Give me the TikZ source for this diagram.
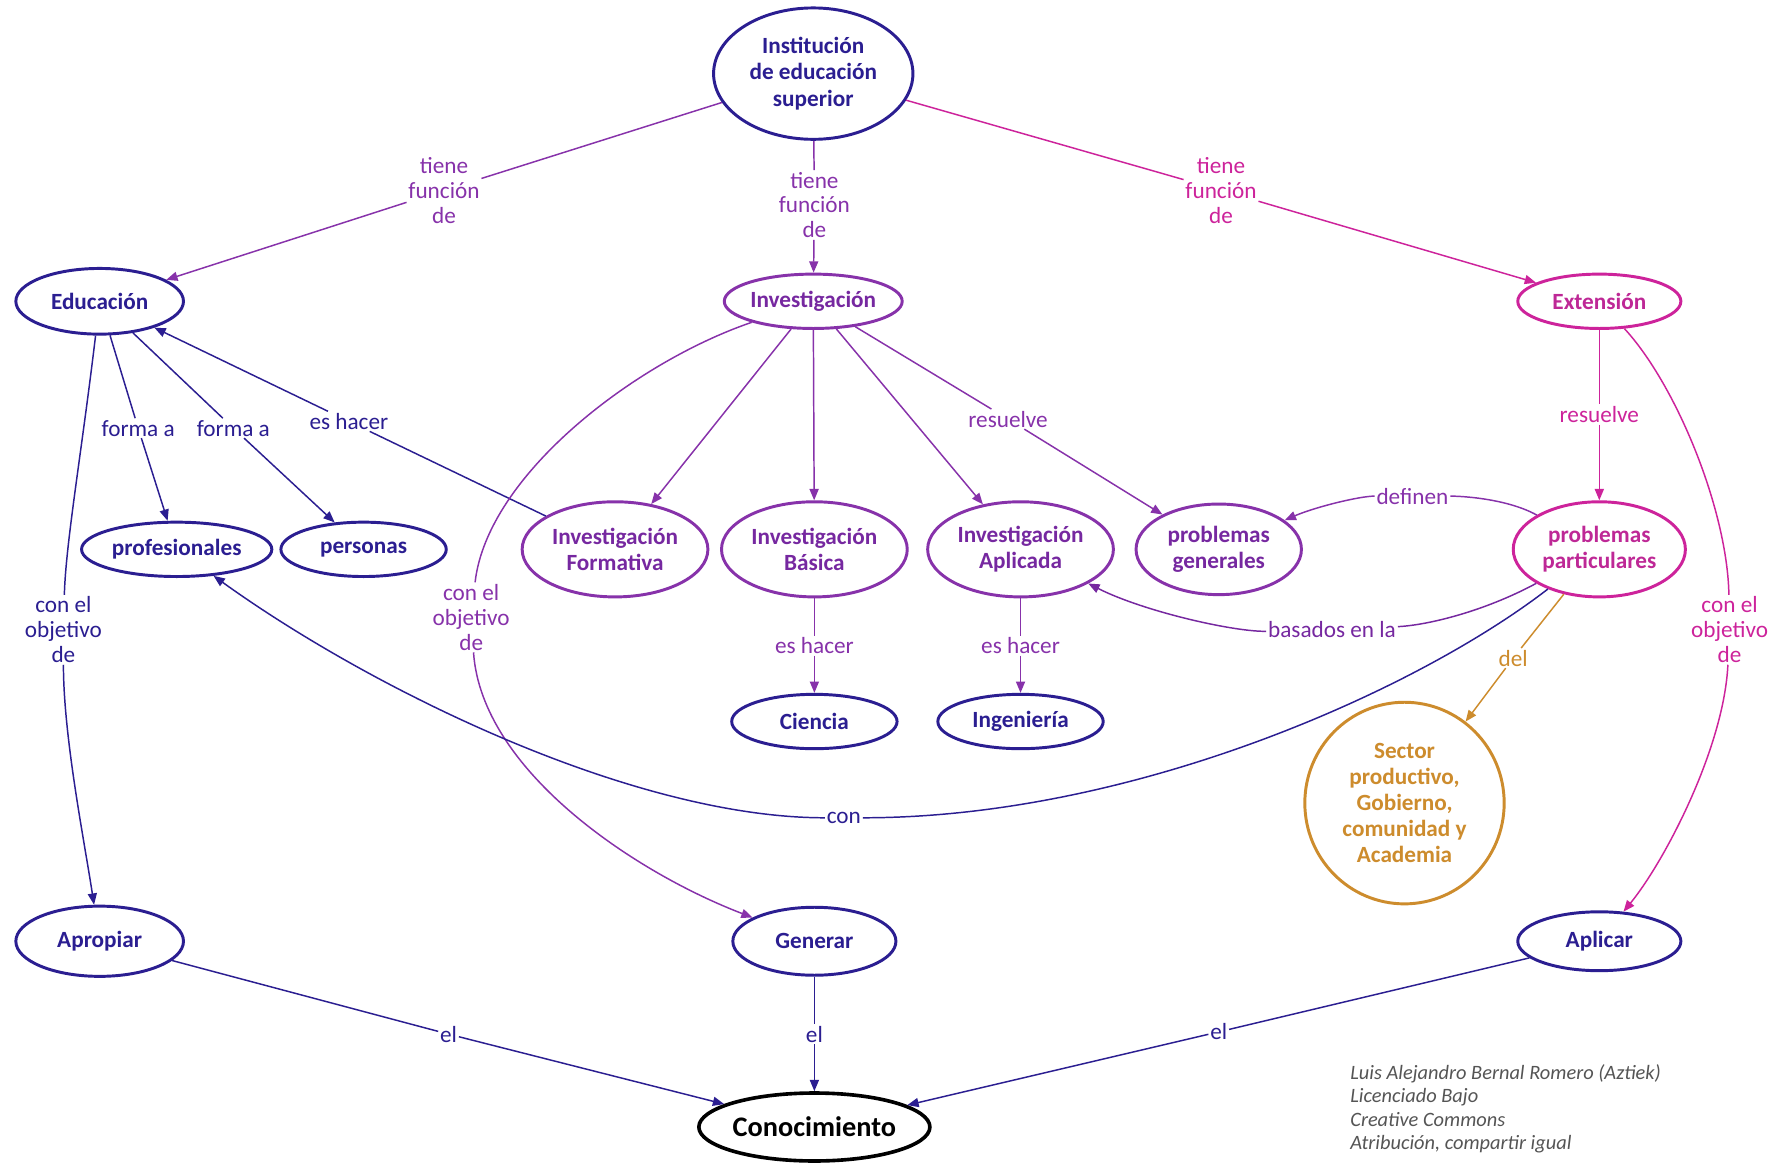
\documentclass[tikz,border=0pt]{standalone}
\usepackage{fontspec}
\setmainfont{Carlito}
\usetikzlibrary{shapes.geometric,arrows.meta}
\definecolor{cblue}{RGB}{43,30,145}
\definecolor{cpurple}{RGB}{135,50,170}
\definecolor{cpurpletext}{RGB}{118,40,160}
\definecolor{cmagenta}{RGB}{205,35,155}
\definecolor{cmagtext}{RGB}{190,40,150}
\definecolor{corange}{RGB}{205,140,45}
\definecolor{cgray}{RGB}{85,85,85}
\newcommand\nodefont{\fontsize{20.5}{23}\selectfont\bfseries}
\newcommand\lblfont{\fontsize{20.5}{22}\selectfont}
\newcommand\credfont{\fontsize{18}{20.5}\selectfont\itshape}
\tikzset{
  concept/.style={ellipse, draw, line width=2.6pt, inner sep=0pt, align=center, font=\nodefont},
  lbl/.style={fill=white, inner sep=1.5pt, align=center, font=\lblfont},
  link/.style={line width=1.3pt},
  arr/.style={link, -{Triangle[length=10pt,width=8pt]}},
}
\begin{document}
\begin{tikzpicture}[x=1pt,y=-1pt]
\useasboundingbox (0,0) rectangle (1568,1026);
\fill[white] (0,0) rectangle (1568,1026);

% concepts
\node[concept,cblue,minimum width=176pt,minimum height=116pt] (inst) at (718,65) {Institución\\de educación\\superior};
\node[concept,cblue,minimum width=148pt,minimum height=58pt] (edu) at (88,266) {Educación};
\node[concept,cpurple,text=cpurpletext,minimum width=156pt,minimum height=48pt] (inv) at (718,266) {Investigación};
\node[concept,cmagenta,text=cmagtext,minimum width=144pt,minimum height=48pt] (ext) at (1412,266) {Extensión};
\node[concept,cblue,minimum width=168pt,minimum height=48pt] (prof) at (156,485) {profesionales};
\node[concept,cblue,minimum width=146pt,minimum height=48pt] (pers) at (321,485) {personas};
\node[concept,cpurple,text=cpurpletext,minimum width=164pt,minimum height=84pt] (form) at (543,485) {Investigación\\Formativa};
\node[concept,cpurple,text=cpurpletext,minimum width=164pt,minimum height=84pt] (bas) at (719,485) {Investigación\\Básica};
\node[concept,cpurple,text=cpurpletext,minimum width=164pt,minimum height=84pt] (apl) at (901,485) {Investigación\\Aplicada};
\node[concept,cpurple,text=cpurpletext,minimum width=146pt,minimum height=80pt] (gen) at (1076,485) {problemas\\generales};
\node[concept,cmagenta,text=cmagtext,minimum width=152pt,minimum height=84pt] (part) at (1412,485) {problemas\\particulares};
\node[concept,cblue,minimum width=146pt,minimum height=48pt] (cie) at (719,637) {Ciencia};
\node[concept,cblue,minimum width=146pt,minimum height=48pt] (ing) at (901,637) {Ingeniería};
\node[concept,corange,minimum width=176pt,minimum height=178pt] (sector) at (1240,709) {Sector\\productivo,\\Gobierno,\\comunidad y\\Academia};
\node[concept,cblue,minimum width=148pt,minimum height=62pt] (aprop) at (88,831) {Apropiar};
\node[concept,cblue,minimum width=144pt,minimum height=60pt] (generar) at (719,831) {Generar};
\node[concept,cblue,minimum width=144pt,minimum height=52pt] (aplicar) at (1412,831) {Aplicar};
\node[concept,black,line width=3.2pt,minimum width=200pt,minimum height=60pt,font=\fontsize{25}{28}\selectfont\bfseries] (con) at (719,995) {Conocimiento};

% linking phrases
\node[lbl,text=cpurple] (l1) at (392,168) {tiene\\función\\de};
\node[lbl,text=cpurple] (l2) at (719,181) {tiene\\función\\de};
\node[lbl,text=cmagenta] (l3) at (1078,168) {tiene\\función\\de};
\node[lbl,text=cblue] (l4) at (122,378) {forma a};
\node[lbl,text=cblue] (l5) at (206,378) {forma a};
\node[lbl,text=cblue] (l6) at (308,372) {es hacer};
\node[lbl,text=cblue] (l7) at (56,556) {con el\\objetivo\\de};
\node[lbl,text=cpurple] (l8) at (890,370) {resuelve};
\node[lbl,text=cpurple] (l9) at (416,545) {con el\\objetivo\\de};
\node[lbl,text=cpurple] (l10) at (719,570) {es hacer};
\node[lbl,text=cpurple] (l11) at (901,570) {es hacer};
\node[lbl,text=cmagenta] (l12) at (1412,366) {resuelve};
\node[lbl,text=cmagenta] (l13) at (1527,556) {con el\\objetivo\\de};
\node[lbl,text=cpurple] (l14) at (1247,438) {definen};
\node[lbl,text=cpurpletext] (l15) at (1176,556) {basados en la};
\node[lbl,text=cblue] (l16) at (745,722) {con};
\node[lbl,text=corange] (l17) at (1336,581) {del};
\node[lbl,text=cblue] (l18) at (396,913) {el};
\node[lbl,text=cblue] (l19) at (719,913) {el};
\node[lbl,text=cblue] (l20) at (1076,911) {el};

% credits
\node[text=cgray,font=\credfont,align=left,anchor=west,inner sep=0pt] (cred) at (1192,979)
  {Luis Alejandro Bernal Romero (Aztiek)\\Licenciado Bajo\\Creative Commons\\Atribución, compartir igual};

% connectors
\draw[link,cpurple] (inst) -- (l1);
\draw[arr,cpurple] (l1) -- (edu);
\draw[link,cpurple] (inst) -- (l2);
\draw[arr,cpurple] (l2) -- (inv);
\draw[link,cmagenta] (inst) -- (l3);
\draw[arr,cmagenta] (l3) -- (ext);

\draw[link,cblue] (edu) -- (l4);
\draw[arr,cblue] (l4) -- (prof);
\draw[link,cblue] (edu) -- (l5);
\draw[arr,cblue] (l5) -- (pers);
\draw[link,cblue] (form) -- (l6);
\draw[arr,cblue] (l6) -- (edu);
\draw[link,cblue] (edu) .. controls (72,400) and (58,480) .. (l7);
\draw[arr,cblue] (l7) .. controls (56,650) and (74,740) .. (aprop);

\draw[arr,cpurple] (inv) -- (form);
\draw[arr,cpurple] (inv) -- (bas);
\draw[arr,cpurple] (inv) -- (apl);
\draw[link,cpurple] (inv) -- (l8);
\draw[arr,cpurple] (l8) -- (gen);
\draw[link,cpurple] (inv) .. controls (560,320) and (430,420) .. (l9);
\draw[arr,cpurple] (l9) .. controls (425,680) and (560,770) .. (generar);
\draw[link,cpurple] (bas) -- (l10);
\draw[arr,cpurple] (l10) -- (cie);
\draw[link,cpurple] (apl) -- (l11);
\draw[arr,cpurple] (l11) -- (ing);

\draw[link,cmagenta] (ext) -- (l12);
\draw[arr,cmagenta] (l12) -- (part);
\draw[link,cmagenta] (ext) .. controls (1480,340) and (1525,450) .. (l13);
\draw[arr,cmagenta] (l13) .. controls (1522,660) and (1470,760) .. (aplicar);

\draw[link,cpurple] (part) .. controls (1330,440) and (1290,438) .. (l14);
\draw[arr,cpurple] (l14) .. controls (1200,438) and (1160,448) .. (gen);
\draw[link,cpurpletext] (part) .. controls (1310,540) and (1260,552) .. (l15);
\draw[arr,cpurpletext] (l15) .. controls (1090,558) and (1010,540) .. (apl);
\draw[link,cblue] (part) .. controls (1250,610) and (1000,722) .. (l16);
\draw[arr,cblue] (l16) .. controls (560,722) and (330,610) .. (prof);
\draw[link,corange] (part) -- (l17);
\draw[arr,corange] (l17) -- (sector);

\draw[link,cblue] (aprop) -- (l18);
\draw[arr,cblue] (l18) -- (con);
\draw[link,cblue] (generar) -- (l19);
\draw[arr,cblue] (l19) -- (con);
\draw[link,cblue] (aplicar) -- (l20);
\draw[arr,cblue] (l20) -- (con);
\end{tikzpicture}
\end{document}
